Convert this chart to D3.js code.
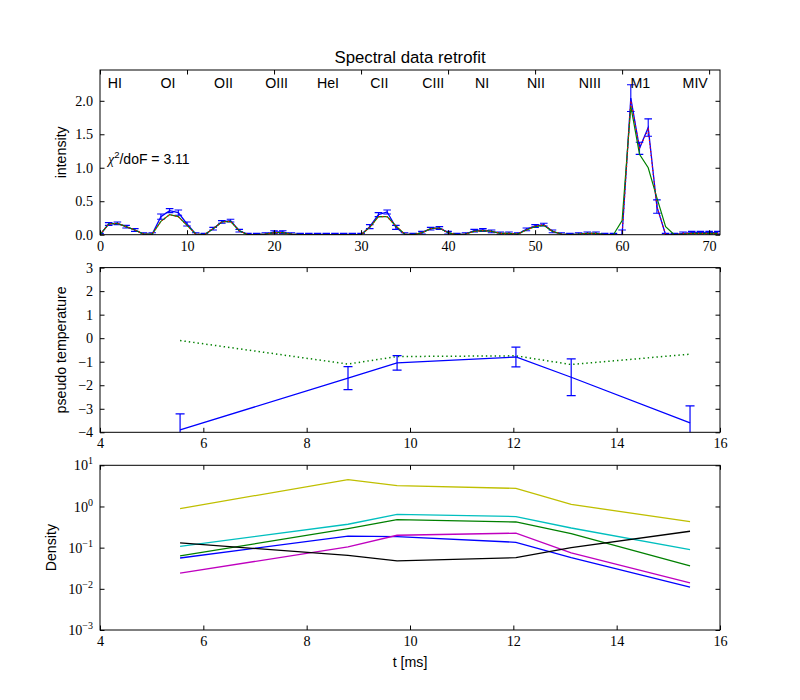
<!DOCTYPE html>
<html><head><meta charset="utf-8">
<script src="https://cdn.jsdelivr.net/npm/d3@7"></script>
<style>
body{margin:0;background:#fff;}
svg{display:block;}
.tick text{font-family:"Liberation Serif",serif;font-size:14.2px;fill:#000;}
.sans{font-family:"Liberation Sans",Arial,sans-serif;fill:#000;}
</style></head>
<body>
<script>
// ---------- DATA ----------
const channels = [0,1,2,3,4,5,6,7,8,9,10,11,12,13,14,15,16,17,18,19,20,21,22,23,24,25,26,27,28,29,30,31,32,33,34,35,36,37,38,39,40,41,42,43,44,45,46,47,48,49,50,51,52,53,54,55,56,57,58,59,60,61,62,63,64,65,66,67,68,69,70,71];
const measured = [0.00,0.16,0.17,0.12,0.07,0.01,0.01,0.27,0.36,0.33,0.16,0.01,0.00,0.09,0.19,0.21,0.06,0.00,0.00,0.01,0.04,0.04,0.01,0.00,0.00,0.00,0.00,0.00,0.00,0.00,0.00,0.12,0.30,0.34,0.11,0.01,0.00,0.03,0.09,0.10,0.03,0.00,0.01,0.06,0.07,0.05,0.02,0.02,0.01,0.08,0.13,0.15,0.05,0.01,0.00,0.01,0.02,0.02,0.00,0.00,0.00,2.04,1.29,1.60,0.42,0.00,0.00,0.02,0.03,0.03,0.03,0.03];
const measuredErr = [0.02,0.02,0.02,0.02,0.02,0.02,0.02,0.04,0.03,0.04,0.03,0.02,0.02,0.02,0.02,0.02,0.02,0.02,0.02,0.02,0.02,0.02,0.02,0.02,0.02,0.02,0.02,0.02,0.02,0.02,0.02,0.03,0.03,0.03,0.03,0.02,0.02,0.02,0.02,0.02,0.02,0.02,0.02,0.02,0.02,0.02,0.02,0.02,0.02,0.02,0.02,0.02,0.02,0.02,0.02,0.02,0.02,0.02,0.02,0.02,0.07,0.20,0.09,0.13,0.10,0.02,0.02,0.02,0.02,0.02,0.02,0.02];
const fitRetro = [0.00,0.16,0.17,0.12,0.07,0.01,0.01,0.20,0.30,0.27,0.14,0.01,0.00,0.09,0.19,0.20,0.06,0.00,0.00,0.01,0.03,0.03,0.01,0.00,0.00,0.00,0.00,0.00,0.00,0.00,0.00,0.11,0.27,0.27,0.13,0.01,0.00,0.03,0.09,0.10,0.03,0.00,0.01,0.05,0.06,0.05,0.02,0.02,0.01,0.07,0.13,0.15,0.05,0.01,0.00,0.01,0.02,0.02,0.00,0.00,0.00,2.00,1.30,1.57,0.42,0.00,0.00,0.02,0.02,0.02,0.02,0.02];
const fitModel = [0.00,0.16,0.17,0.12,0.07,0.01,0.01,0.20,0.30,0.27,0.14,0.01,0.00,0.09,0.19,0.20,0.06,0.00,0.00,0.01,0.03,0.03,0.01,0.00,0.00,0.00,0.00,0.00,0.00,0.00,0.00,0.11,0.27,0.27,0.13,0.01,0.00,0.03,0.09,0.10,0.03,0.00,0.01,0.05,0.06,0.05,0.02,0.02,0.01,0.07,0.12,0.14,0.05,0.01,0.00,0.01,0.02,0.02,0.00,0.00,0.21,1.92,1.20,1.00,0.55,0.12,0.00,0.01,0.02,0.02,0.02,0.02];
const lineNames = ["HI","OI","OII","OIII","HeI","CII","CIII","NI","NII","NIII","M1","MIV"];
const linePos = [1.7,7.8,14.2,20.3,26.2,32.1,38.3,43.9,50.1,56.3,62.1,68.4];
const chi2Label = "3.11";

const times = [5.55, 8.8, 9.75, 12.05, 13.12, 15.42];
const pseudoT = [-3.9, -1.7, -1.05, -0.8, -1.66, -3.6];
const pseudoTErr = [0.68, 0.49, 0.31, 0.42, 0.78, 0.72];
const pseudoTModel = [-0.1, -1.1, -0.78, -0.75, -1.12, -0.68];

const densBlue = [0.056, 0.19, 0.185, 0.135, 0.057, 0.011];
const densGreen = [0.063, 0.29, 0.48, 0.42, 0.22, 0.036];
const densCyan = [0.107, 0.37, 0.64, 0.57, 0.30, 0.09];
const densMagenta = [0.024, 0.105, 0.20, 0.225, 0.075, 0.014];
const densYellow = [0.89, 4.5, 3.2, 2.75, 1.12, 0.43];
const densBlack = [0.13, 0.065, 0.048, 0.057, 0.10, 0.25];

const spectrumXTicks = [0,10,20,30,40,50,60,70];
const spectrumYTicks = [0,0.5,1.0,1.5,2.0];
const timeTicks = [4,6,8,10,12,14,16];
const tempTicks = [-4,-3,-2,-1,0,1,2,3];
const densTicks = [1e-3,1e-2,1e-1,1,10];

// ---------- LAYOUT ----------
const W = 800, H = 700;
const L = 100, R = 720;
const panels = [[70, 234.7], [267.6, 432.3], [465.3, 630]];

const svg = d3.select("body").append("svg").attr("width", W).attr("height", H);
const minus = s => String(s).replace("-", "\u2212");

function frame(g, top, bot){
  g.append("rect").attr("x", L).attr("y", top).attr("width", R-L).attr("height", bot-top)
   .attr("fill", "none").attr("stroke", "#000").attr("stroke-width", 1);
}
function axes(g, x, y, top, bot, xt, yt, xfmt, yfmt){
  const gx = g.append("g").attr("transform", `translate(0,${bot})`)
    .call(d3.axisBottom(x).tickValues(xt).tickSize(-4.5).tickPadding(6).tickFormat(xfmt));
  g.append("g").attr("transform", `translate(0,${top})`)
    .call(d3.axisTop(x).tickValues(xt).tickSize(-4.5).tickFormat(""));
  const gy = g.append("g").attr("transform", `translate(${L},0)`)
    .call(d3.axisLeft(y).tickValues(yt).tickSize(-4.5).tickPadding(7).tickFormat(yfmt));
  g.append("g").attr("transform", `translate(${R},0)`)
    .call(d3.axisRight(y).tickValues(yt).tickSize(-4.5).tickFormat(""));
  g.selectAll(".domain").remove();
  g.selectAll(".tick line").attr("stroke", "#000").attr("stroke-width", 1);
  return [gx, gy];
}

// ---------- PANEL 1 ----------
{
  const [top, bot] = panels[0];
  const g = svg.append("g");
  const x = d3.scaleLinear().domain([0, 71.25]).range([L, R]);
  const y = d3.scaleLinear().domain([0, 2.46]).range([bot, top]);
  svg.append("clipPath").attr("id", "c1").append("rect").attr("x", L).attr("y", top).attr("width", R-L).attr("height", bot-top);
  const pg = g.append("g").attr("clip-path", "url(#c1)");
  const line = d3.line().x((d,i)=>x(channels[i])).y(d=>y(d));
  const eb = pg.append("g").attr("stroke", "#0000ff").attr("stroke-width", 1.1);
  channels.forEach((c,i)=>{
    const x0 = x(c), y1 = y(measured[i]-measuredErr[i]), y2 = y(measured[i]+measuredErr[i]);
    eb.append("line").attr("x1", x0).attr("x2", x0).attr("y1", y1).attr("y2", y2);
    eb.append("line").attr("x1", x0-3.8).attr("x2", x0+3.8).attr("y1", y1).attr("y2", y1);
    eb.append("line").attr("x1", x0-3.8).attr("x2", x0+3.8).attr("y1", y2).attr("y2", y2);
  });
  pg.append("path").datum(measured).attr("d", line).attr("fill","none").attr("stroke","#0000ff").attr("stroke-width",1.3);
  pg.append("path").datum(fitModel).attr("d", line).attr("fill","none").attr("stroke","#008000").attr("stroke-width",1.2);
  pg.append("path").datum(fitRetro).attr("d", line).attr("fill","none").attr("stroke","#ff0000").attr("stroke-width",1.2).attr("stroke-dasharray","1.2,2.6");
  frame(g, top, bot);
  axes(g, x, y, top, bot, spectrumXTicks, spectrumYTicks, d3.format("d"), d3.format(".1f"));
  g.selectAll("text.lname").data(lineNames).enter().append("text").attr("class","sans")
    .attr("x",(d,i)=>x(linePos[i])).attr("y", 88).attr("text-anchor","middle").attr("font-size","14.2px").text(d=>d);
  const t = g.append("text").attr("class","sans").attr("x",108).attr("y",164).attr("font-size","14px");
  t.append("tspan").attr("font-family","Liberation Serif,serif").attr("font-style","italic").text("χ");
  t.append("tspan").attr("font-size","9.5px").attr("dy",-6).text("2");
  t.append("tspan").attr("dy",6).text("/doF = " + chi2Label);
  svg.append("text").attr("class","sans").attr("x",410).attr("y",63).attr("text-anchor","middle").attr("font-size","16.8px").text("Spectral data retrofit");
  svg.append("text").attr("class","sans").attr("transform",`translate(66,${(top+bot)/2}) rotate(-90)`).attr("text-anchor","middle").attr("font-size","14.2px").text("intensity");
}

// ---------- PANEL 2 ----------
{
  const [top, bot] = panels[1];
  const g = svg.append("g");
  const x = d3.scaleLinear().domain([4, 16]).range([L, R]);
  const y = d3.scaleLinear().domain([-4, 3]).range([bot, top]);
  svg.append("clipPath").attr("id", "c2").append("rect").attr("x", L).attr("y", top).attr("width", R-L).attr("height", bot-top);
  const pg = g.append("g").attr("clip-path", "url(#c2)");
  const line = d3.line().x((d,i)=>x(times[i])).y(d=>y(d));
  pg.append("path").datum(pseudoTModel).attr("d", line).attr("fill","none").attr("stroke","#008000").attr("stroke-width",1.5).attr("stroke-dasharray","1.4,3");
  const eb = pg.append("g").attr("stroke", "#0000ff").attr("stroke-width", 1.2);
  times.forEach((c,i)=>{
    const x0 = x(c), y1 = y(pseudoT[i]-pseudoTErr[i]), y2 = y(pseudoT[i]+pseudoTErr[i]);
    eb.append("line").attr("x1", x0).attr("x2", x0).attr("y1", y1).attr("y2", y2);
    eb.append("line").attr("x1", x0-4.5).attr("x2", x0+4.5).attr("y1", y1).attr("y2", y1);
    eb.append("line").attr("x1", x0-4.5).attr("x2", x0+4.5).attr("y1", y2).attr("y2", y2);
  });
  pg.append("path").datum(pseudoT).attr("d", line).attr("fill","none").attr("stroke","#0000ff").attr("stroke-width",1.3);
  frame(g, top, bot);
  axes(g, x, y, top, bot, timeTicks, tempTicks, d3.format("d"), d=>minus(d));
  svg.append("text").attr("class","sans").attr("transform",`translate(66,${(top+bot)/2}) rotate(-90)`).attr("text-anchor","middle").attr("font-size","14.2px").text("pseudo temperature");
}

// ---------- PANEL 3 ----------
{
  const [top, bot] = panels[2];
  const g = svg.append("g");
  const x = d3.scaleLinear().domain([4, 16]).range([L, R]);
  const y = d3.scaleLog().domain([1e-3, 10]).range([bot, top]);
  svg.append("clipPath").attr("id", "c3").append("rect").attr("x", L).attr("y", top).attr("width", R-L).attr("height", bot-top);
  const pg = g.append("g").attr("clip-path", "url(#c3)");
  const line = d3.line().x((d,i)=>x(times[i])).y(d=>y(d));
  const series = [[densBlue,"#0000ff"],[densGreen,"#008000"],[densCyan,"#00bfbf"],[densMagenta,"#bf00bf"],[densYellow,"#bfbf00"],[densBlack,"#000000"]];
  series.forEach(([d,c])=>{
    pg.append("path").datum(d).attr("d", line).attr("fill","none").attr("stroke",c).attr("stroke-width",1.3);
  });
  frame(g, top, bot);
  const [gx, gy] = axes(g, x, y, top, bot, timeTicks, densTicks, d3.format("d"), ()=>"");
  gy.selectAll(".tick text").each(function(d){
    const t = d3.select(this);
    t.text(null);
    t.append("tspan").text("10");
    t.append("tspan").attr("dy",-6).attr("font-size","10px").text(minus(Math.round(Math.log10(d))));
  });
  svg.append("text").attr("class","sans").attr("transform",`translate(56,${(top+bot)/2}) rotate(-90)`).attr("text-anchor","middle").attr("font-size","14.2px").text("Density");
  svg.append("text").attr("class","sans").attr("x",410).attr("y",667).attr("text-anchor","middle").attr("font-size","14.2px").text("t [ms]");
}
</script>
</body></html>
